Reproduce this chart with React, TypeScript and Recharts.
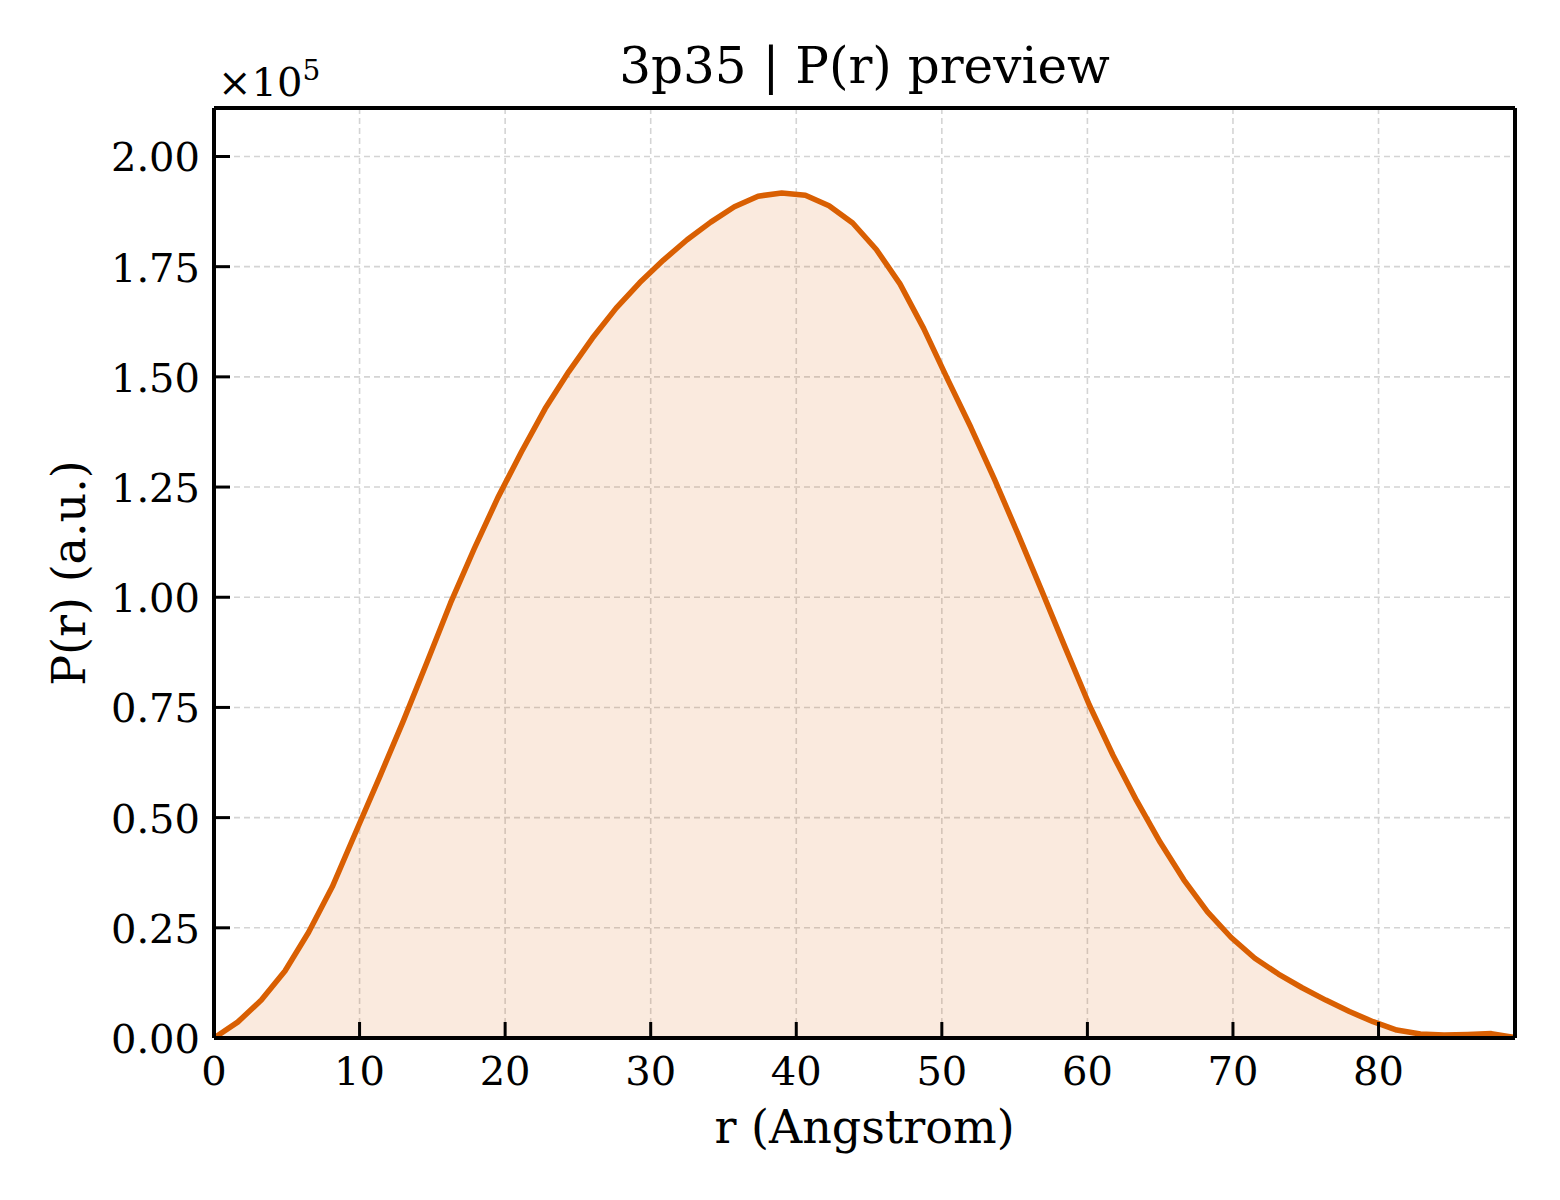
import { ComposedChart, Area, XAxis, YAxis, CartesianGrid, ReferenceLine } from 'recharts';

// r in Angstrom
const radius = [
  0, 1.625, 3.25, 4.875, 6.5, 8.125, 9.75, 11.375, 13, 14.625, 16.25, 17.875, 19.5, 21.125,
  22.75, 24.375, 26, 27.625, 29.25, 30.875, 32.5, 34.125, 35.75, 37.375, 39, 40.625, 42.25,
  43.875, 45.5, 47.125, 48.75, 50.375, 52, 53.625, 55.25, 56.875, 58.5, 60.125, 61.75, 63.375,
  65, 66.625, 68.25, 69.875, 71.5, 73.125, 74.75, 76.375, 78, 79.625, 81.25, 82.875, 84.5,
  86.125, 87.75, 89.375,
];

// P(r), arbitrary units
const prob = [
  0, 3600, 8600, 15200, 24000, 34300, 46800, 59200, 71900, 85200, 98700, 111000, 122600, 133000,
  142800, 151200, 158800, 165600, 171400, 176500, 181100, 185100, 188600, 191000, 191700, 191200,
  188800, 184900, 178900, 171100, 161000, 149600, 138500, 126700, 114200, 101400, 88400, 75600,
  64200, 53900, 44400, 35900, 28600, 22800, 18100, 14500, 11400, 8600, 6000, 3700, 1800, 900,
  700, 800, 1000, 100,
];

const xTicks = [0, 10, 20, 30, 40, 50, 60, 70, 80];
const yTicks = [0, 25000, 50000, 75000, 100000, 125000, 150000, 175000, 200000];
const xMax = 89.375;
const yMax = 211000;

const data = radius.map((r, i) => ({ r, p: prob[i] }));

const FONT = 'DejaVu Serif';
const ORANGE = '#d95f02';

const YTick = ({ x, y, payload }: any) => (
  <g>
    <line x1={x + 14} x2={x + 30} y1={y} y2={y} stroke="#000" strokeWidth={3} />
    <text x={x} y={y + 15} textAnchor="end" fontFamily={FONT} fontSize={40} fill="#000">
      {(payload.value / 1e5).toFixed(2)}
    </text>
  </g>
);

const XTick = ({ x, y, payload }: any) => (
  <g>
    <line x1={x} x2={x} y1={y} y2={y - 16} stroke="#000" strokeWidth={3} />
    <text x={x} y={y + 47} textAnchor="middle" fontFamily={FONT} fontSize={40} fill="#000">
      {payload.value}
    </text>
  </g>
);

const YLabel = ({ viewBox }: any) => {
  const { x, y, width, height } = viewBox;
  const ax = x + width;
  const cy = y + height / 2;
  return (
    <g>
      <text
        x={ax - 129}
        y={cy}
        transform={`rotate(-90 ${ax - 129} ${cy})`}
        textAnchor="middle"
        fontFamily={FONT}
        fontSize={46}
        fill="#000"
      >
        P(r) (a.u.)
      </text>
      <text x={ax + 4} y={y - 12} fontFamily={FONT} fontSize={40} fill="#000">
        ×10
        <tspan fontSize={28} dy={-16}>5</tspan>
      </text>
    </g>
  );
};

const XLabel = ({ viewBox }: any) => {
  const { x, y, width } = viewBox;
  return (
    <g>
      <text x={x + width / 2} y={y + 105} textAnchor="middle" fontFamily={FONT} fontSize={46} fill="#000">
        r (Angstrom)
      </text>
      <text x={x + width / 2} y={y - 955} textAnchor="middle" fontFamily={FONT} fontSize={50} fill="#000">
        3p35 | P(r) preview
      </text>
    </g>
  );
};

export default function App() {
  return (
    <div style={{ position: 'absolute', left: 0, top: 0, width: 1560, height: 1200, background: '#fff' }}>
      <ComposedChart
        width={1560}
        height={1200}
        data={data}
        margin={{ top: 108, right: 45, bottom: 10, left: 10 }}
      >
        <CartesianGrid stroke="#d4d4d4" strokeWidth={1.6} strokeDasharray="6 4" />
        <XAxis
          dataKey="r"
          type="number"
          domain={[0, xMax]}
          allowDataOverflow
          ticks={xTicks}
          height={152}
          tickSize={0}
          tickMargin={0}
          tickLine={false}
          axisLine={{ stroke: '#000', strokeWidth: 4 }}
          tick={<XTick />}
          label={<XLabel />}
        />
        <YAxis
          type="number"
          domain={[0, yMax]}
          allowDataOverflow
          ticks={yTicks}
          width={204}
          tickSize={0}
          tickMargin={14}
          tickLine={false}
          axisLine={{ stroke: '#000', strokeWidth: 4 }}
          tick={<YTick />}
          label={<YLabel />}
        />
        <Area
          type="linear"
          dataKey="p"
          stroke={ORANGE}
          strokeWidth={5.5}
          strokeLinejoin="round"
          fill={ORANGE}
          fillOpacity={0.13}
          dot={false}
          activeDot={false}
          isAnimationActive={false}
        />
        <ReferenceLine y={yMax} stroke="#000" strokeWidth={4} />
        <ReferenceLine x={xMax} stroke="#000" strokeWidth={4} />
      </ComposedChart>
    </div>
  );
}
